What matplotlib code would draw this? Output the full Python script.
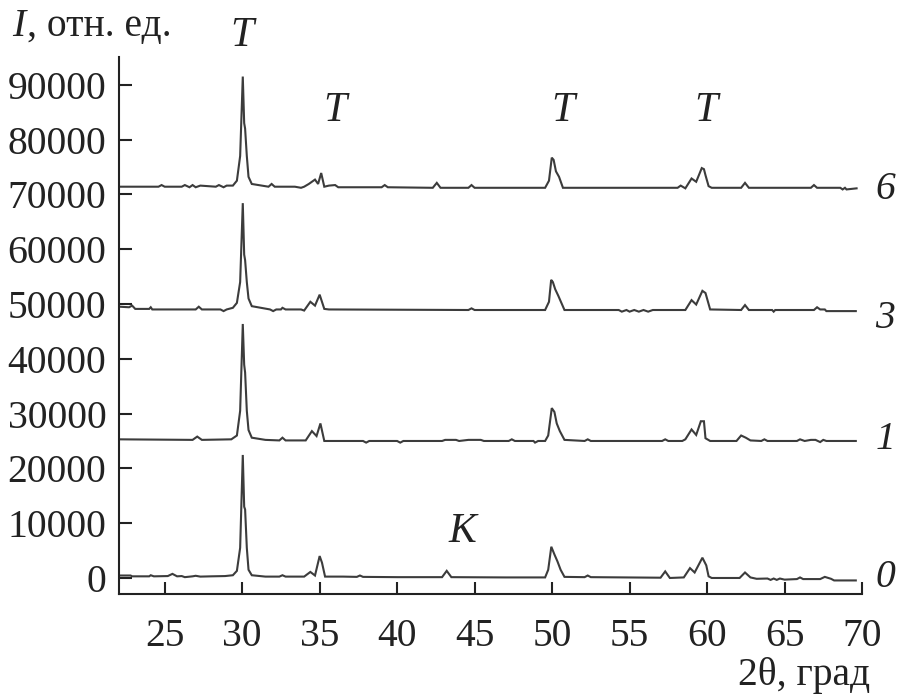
import matplotlib
matplotlib.use("Agg")
import matplotlib.pyplot as plt

# ---- data (2theta in degrees, intensity in rel. units) ----
x0 = [22.1, 22.8, 22.9, 23.5, 24.0, 24.1, 24.3, 25.2, 25.5, 25.8, 26.1, 26.3, 26.8, 27.0, 27.3,
      28.0, 28.9, 29.4, 29.66, 29.87, 30.04, 30.13, 30.19, 30.3, 30.41, 30.62, 31.5, 32.4, 32.6,
      32.8, 34.0, 34.4, 34.7, 35.0, 35.15, 35.35, 36.5, 37.4, 37.6, 37.8, 40.0, 42.9, 43.2, 43.5,
      47.0, 49.55, 49.75, 49.95, 50.15, 50.35, 50.55, 50.8, 52.1, 52.3, 52.5, 57.0, 57.3, 57.6,
      58.5, 58.9, 59.2, 59.7, 59.95, 60.1, 60.3, 62.1, 62.45, 62.8, 63.2, 63.9, 64.1, 64.3, 64.5,
      64.7, 65.0, 65.8, 66.0, 66.2, 67.3, 67.6, 68.0, 68.2, 69.6]
y0 = [450, 450, 300, 300, 300, 500, 300, 350, 750, 300, 350, 150, 300, 400, 250,
      300, 350, 500, 1300, 5500, 22450, 13000, 12500, 5500, 1500, 500, 250, 250, 500,
      250, 250, 1100, 450, 4000, 2800, 250, 250, 200, 450, 200, 150, 150, 1300, 150,
      100, 100, 1500, 5700, 4300, 3000, 1500, 200, 150, 450, 150, 50, 1200, 0,
      100, 1800, 1000, 3700, 2300, 300, 0, 0, 1000, 100, -150, -100, -350, -100, -350,
      -100, -300, -200, 100, -200, -200, 200, -150, -450, -450]

x1 = [22.1, 26.8, 27.1, 27.4, 29.3, 29.66, 29.87, 30.04, 30.13, 30.19, 30.3, 30.41, 30.62,
      31.5, 32.4, 32.6, 32.8, 34.1, 34.5, 34.8, 35.05, 35.3, 36.5, 37.8, 38.0, 38.2, 40.0,
      40.2, 40.4, 42.9, 43.1, 43.8, 44.0, 44.6, 45.4, 45.6, 47.2, 47.4, 47.6, 48.8, 48.9,
      49.1, 49.55, 49.75, 49.98, 50.15, 50.3, 50.5, 50.8, 52.1, 52.3, 52.5, 57.1, 57.3, 57.5,
      58.4, 58.6, 59.0, 59.3, 59.6, 59.8, 59.9, 60.2, 61.9, 62.2, 62.5, 62.8, 63.5, 63.7,
      63.9, 65.8, 66.0, 66.3, 66.7, 67.0, 67.3, 67.5, 67.7, 69.6]
y1 = [25300, 25200, 25800, 25200, 25300, 26000, 30500, 46350, 38900, 37500, 30500, 27000, 25600,
      25200, 25100, 25600, 25100, 25100, 26800, 25900, 28200, 25000, 25000, 25000, 24700, 25000, 25000,
      24700, 25000, 25000, 25200, 25200, 25000, 25200, 25200, 25000, 25000, 25300, 25000, 25000, 24700,
      25000, 25000, 26000, 31000, 30300, 28200, 26800, 25200, 25000, 25300, 25000, 25000, 25300, 25000,
      25000, 25300, 27100, 26100, 28600, 28600, 25500, 25000, 25000, 26000, 25600, 25100, 25000, 25300,
      25000, 25000, 25300, 25000, 25200, 25200, 24800, 25200, 25000, 25000]

x3 = [22.1, 22.7, 22.9, 23.1, 24.0, 24.1, 24.2, 27.0, 27.2, 27.4, 28.6, 28.8, 29.0, 29.4, 29.66,
      29.87, 30.04, 30.13, 30.19, 30.3, 30.41, 30.62, 31.8, 32.0, 32.2, 32.5, 32.6, 32.8, 33.8,
      34.0, 34.4, 34.7, 35.0, 35.3, 35.6, 44.6, 44.8, 45.0, 49.55, 49.8, 49.94, 50.05, 50.2, 50.4,
      50.8, 54.3, 54.5, 54.8, 55.0, 55.3, 55.6, 55.9, 56.2, 56.5, 58.6, 59.0, 59.3, 59.7, 59.9,
      60.2, 62.2, 62.45, 62.7, 64.2, 64.3, 64.4, 66.9, 67.1, 67.3, 67.6, 67.7, 69.6]
y3 = [49500, 49400, 49700, 49100, 49100, 49400, 49000, 49000, 49500, 49000, 49000, 48700, 49000, 49300, 50200,
      54000, 68400, 59000, 58000, 54000, 51000, 49600, 49000, 48700, 49000, 49000, 49300, 49000, 49000,
      48800, 50400, 49700, 51700, 49100, 49000, 48900, 49200, 48900, 48900, 50400, 54400, 54000, 52700, 51500,
      48900, 48900, 48600, 48900, 48600, 48900, 48600, 48900, 48600, 48900, 48900, 50700, 49900, 52400, 52000,
      49000, 48900, 49800, 48900, 48900, 48600, 48900, 48900, 49400, 49000, 49000, 48700, 48700]

x6 = [22.1, 24.6, 24.8, 25.0, 26.1, 26.3, 26.6, 26.8, 27.0, 27.3, 28.3, 28.5, 28.8, 29.0, 29.4,
      29.66, 29.87, 30.04, 30.13, 30.19, 30.3, 30.41, 30.62, 31.7, 31.9, 32.1, 33.4, 33.8, 34.0,
      34.3, 34.7, 34.9, 35.1, 35.3, 35.6, 36.0, 36.2, 39.0, 39.2, 39.4, 42.3, 42.56, 42.8, 44.6,
      44.8, 45.0, 49.55, 49.8, 49.98, 50.1, 50.25, 50.45, 50.7, 58.1, 58.3, 58.6, 59.0, 59.3,
      59.66, 59.8, 59.9, 60.1, 60.3, 62.2, 62.45, 62.7, 66.7, 66.9, 67.1, 68.6, 68.75, 68.9, 69.0,
      69.65]
y6 = [71400, 71400, 71700, 71400, 71400, 71700, 71300, 71700, 71300, 71600, 71400, 71700, 71300, 71600, 71600,
      72500, 77000, 91500, 83000, 82000, 77000, 73200, 71900, 71400, 71900, 71400, 71400, 71200, 71400,
      71900, 72700, 71900, 73900, 71400, 71600, 71700, 71300, 71300, 71700, 71300, 71200, 72100, 71200, 71200,
      71700, 71200, 71200, 72500, 76700, 76300, 74200, 73200, 71200, 71200, 71600, 71100, 72900, 72300,
      74800, 74600, 73500, 71500, 71200, 71200, 72100, 71200, 71200, 71700, 71200, 71200, 70900, 71200, 70900,
      71100]

curves = [(x0, y0), (x1, y1), (x3, y3), (x6, y6)]
curve_labels = ["0", "1", "3", "6"]
curve_label_y = [0, 25200, 47400, 70800]

yticks = [0, 10000, 20000, 30000, 40000, 50000, 60000, 70000, 80000, 90000]
xticks = [25, 30, 35, 40, 45, 50, 55, 60, 65, 70]

phase_labels = ["T", "T", "T", "T", "K"]
phase_x = [30.0, 36.0, 50.7, 59.9, 44.2]
phase_y = [99000, 85200, 85200, 85200, 8400]

# ---- figure ----
plt.rcParams['font.family'] = ['Liberation Serif', 'DejaVu Serif']
fig = plt.figure(figsize=(9.18, 6.98), dpi=100)
ax = fig.add_axes([0.1296, 0.1484, 0.8094, 0.7694])

line_color = "#3c3c3c"
for xs, ys in curves:
    ax.plot(xs, ys, color=line_color, lw=1.5, solid_joinstyle="miter")

ax.set_xlim(22.05, 70)
ax.set_ylim(-3000, 95000)
ax.set_xticks(xticks)
ax.set_yticks(yticks)
ax.set_xticklabels([str(v) for v in xticks])
ax.set_yticklabels([str(v) for v in yticks])
ax.tick_params(axis='both', direction='in', length=9, width=1.5, labelsize=28.5, colors="#222222")
ax.tick_params(axis='y', pad=9)
ax.tick_params(axis='x', pad=17)
for s in ['top', 'right']:
    ax.spines[s].set_visible(False)
for s in ['left', 'bottom']:
    ax.spines[s].set_linewidth(1.5)
    ax.spines[s].set_color("#222222")

for lab, yv in zip(curve_labels, curve_label_y):
    ax.text(71.5, yv, lab, fontsize=28.5, style='italic', ha='center', va='center',
            color="#222222", clip_on=False)

for lab, xv, yv in zip(phase_labels, phase_x, phase_y):
    ax.text(xv, yv, lab, fontsize=30, style='italic', ha='center', va='center',
            color="#222222", clip_on=False)

fig.text(12 / 918, 1 - 36 / 698, "I", fontsize=28.5, style='italic', ha='left', va='baseline', color="#222222")
fig.text(27 / 918, 1 - 36 / 698, ", отн. ед.", fontsize=28.5, ha='left', va='baseline', color="#222222")
fig.text(870 / 918, 1 - 685 / 698, "2θ, град", fontsize=28.5, ha='right', va='baseline', color="#222222")

fig.savefig("out.png", dpi=100)
